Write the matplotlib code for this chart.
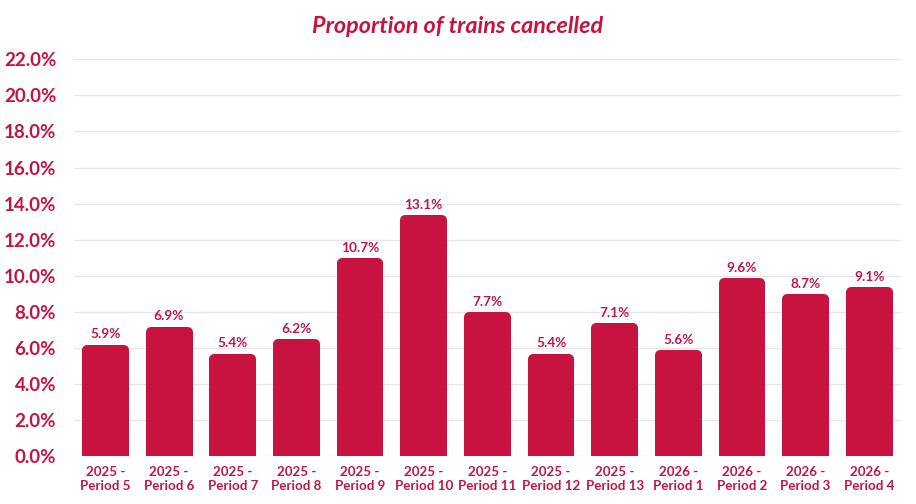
import matplotlib.pyplot as plt
import numpy as np

# data
periods = ["2025 -\nPeriod 5", "2025 -\nPeriod 6", "2025 -\nPeriod 7", "2025 -\nPeriod 8",
           "2025 -\nPeriod 9", "2025 -\nPeriod 10", "2025 -\nPeriod 11", "2025 -\nPeriod 12",
           "2025 -\nPeriod 13", "2026 -\nPeriod 1", "2026 -\nPeriod 2", "2026 -\nPeriod 3",
           "2026 -\nPeriod 4"]
cancelled = [5.9, 6.9, 5.4, 6.2, 10.7, 13.1, 7.7, 5.4, 7.1, 5.6, 9.6, 8.7, 9.1]
yticks = [0, 2, 4, 6, 8, 10, 12, 14, 16, 18, 20, 22]

barColour = "#C8123F"
textColour = "#C0154A"

plt.rcParams["font.family"] = ["Lato", "DejaVu Sans"]

fig = plt.figure(figsize=(9.16, 5.04), dpi=100)
ax = fig.add_axes([0.0803, 0.0952, 0.9035, 0.7871])

x = np.arange(len(periods))
# thick edge with round joins gives the rounded corners
ax.bar(x, cancelled, width=0.58, color=barColour, edgecolor=barColour,
       linewidth=7.2, joinstyle="round", zorder=3)

for xi, v in zip(x, cancelled):
    ax.annotate(f"{v:.1f}%", (xi, v), xytext=(0, 11), textcoords="offset points",
                ha="center", va="center", fontsize=9.8, fontweight="bold",
                color=textColour)

ax.set_xlim(-0.5, len(periods) - 0.5)
ax.set_ylim(0, 22)
ax.set_yticks(yticks)
ax.set_yticklabels([f"{t:.1f}%" for t in yticks])
ax.set_xticks(x)
ax.set_xticklabels(periods, linespacing=1.25)

ax.tick_params(axis="y", length=0, pad=12.5, labelsize=13.5, labelcolor=barColour)
ax.tick_params(axis="x", length=0, pad=7, labelsize=9.6, labelcolor=textColour)
for lbl in ax.get_yticklabels():
    lbl.set_fontweight("bold")
for lbl in ax.get_xticklabels():
    lbl.set_fontweight("bold")

ax.grid(axis="y", color="#E6E6E6", linewidth=1, zorder=0)
for s in ax.spines.values():
    s.set_visible(False)

fig.text(0.5, 0.948, "Proportion of trains cancelled", ha="center", va="center",
         fontsize=16.8, fontweight="bold", fontstyle="italic", color=barColour)

plt.savefig("out.png", dpi=100)
